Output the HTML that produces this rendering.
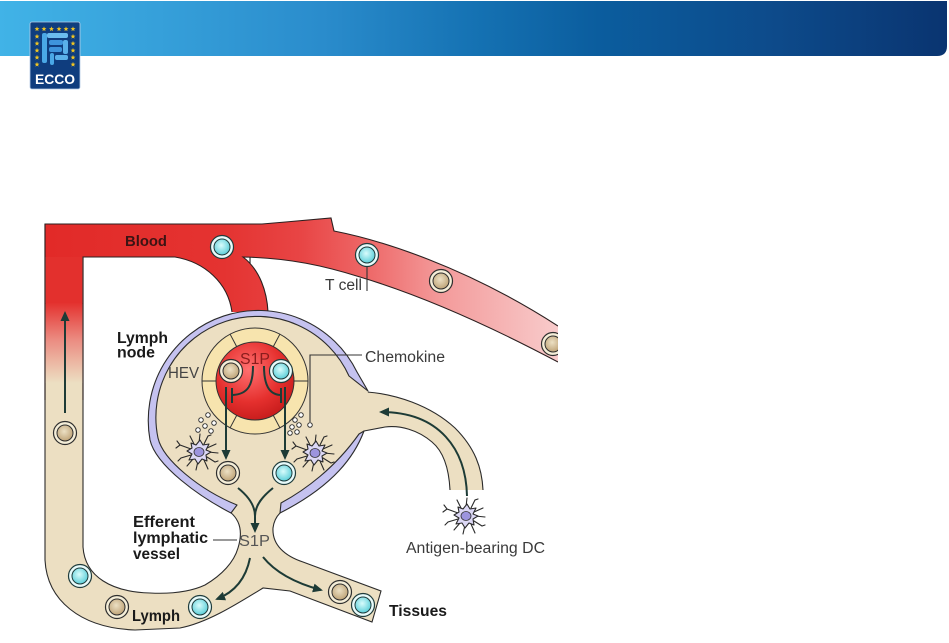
<!DOCTYPE html>
<html><head><meta charset="utf-8">
<style>
html,body{margin:0;padding:0;background:#fff;width:949px;height:643px;overflow:hidden}
svg{display:block}
text{font-family:"Liberation Sans",Arial,sans-serif}
</style></head>
<body>
<svg width="949" height="643" viewBox="0 0 949 643" xmlns="http://www.w3.org/2000/svg">
<defs>
  <linearGradient id="hdr" x1="0" y1="0" x2="949" y2="0" gradientUnits="userSpaceOnUse">
    <stop offset="0" stop-color="#41b3e7"/>
    <stop offset="0.34" stop-color="#2a8ccc"/>
    <stop offset="0.5" stop-color="#1572b3"/>
    <stop offset="0.63" stop-color="#0b5d9e"/>
    <stop offset="0.82" stop-color="#0d4a8a"/>
    <stop offset="1" stop-color="#0a3470"/>
  </linearGradient>
  <linearGradient id="bloodH" x1="44" y1="0" x2="558" y2="0" gradientUnits="userSpaceOnUse">
    <stop offset="0" stop-color="#e22a28"/>
    <stop offset="0.35" stop-color="#e43331"/>
    <stop offset="0.5" stop-color="#e84545"/>
    <stop offset="0.63" stop-color="#ee6868"/>
    <stop offset="0.77" stop-color="#f39a9a"/>
    <stop offset="1" stop-color="#f8cbcb"/>
  </linearGradient>
  <linearGradient id="bloodV" x1="0" y1="0" x2="0" y2="1">
    <stop offset="0" stop-color="#e4322f"/>
    <stop offset="0.45" stop-color="#eb8a80"/>
    <stop offset="1" stop-color="#ecdfc2"/>
  </linearGradient>
  <radialGradient id="redG" cx="0.42" cy="0.35" r="0.7">
    <stop offset="0" stop-color="#ff7070"/>
    <stop offset="0.6" stop-color="#e5302e"/>
    <stop offset="1" stop-color="#c41a1a"/>
  </radialGradient>
  <radialGradient id="tanG" cx="0.45" cy="0.4" r="0.6">
    <stop offset="0" stop-color="#ece0c4"/>
    <stop offset="1" stop-color="#bfa478"/>
  </radialGradient>
  <radialGradient id="cyG" cx="0.45" cy="0.4" r="0.6">
    <stop offset="0" stop-color="#d8fcfc"/>
    <stop offset="1" stop-color="#5ccfd9"/>
  </radialGradient>
  <marker id="ah" viewBox="0 0 10 10" refX="8" refY="5" markerWidth="10" markerHeight="10" markerUnits="userSpaceOnUse" orient="auto">
    <path d="M0,0.5 L10,5 L0,9.5 Z" fill="#1d3b36"/>
  </marker>
  <g id="tan">
    <circle r="11.5" fill="#f5eed8" stroke="#2e2e2e" stroke-width="1.2"/>
    <circle r="8" fill="url(#tanG)" stroke="#2e2e2e" stroke-width="1"/>
  </g>
  <g id="cy">
    <circle r="11.5" fill="#e8fbfb" stroke="#1f3b3b" stroke-width="1.2"/>
    <circle r="8" fill="url(#cyG)" stroke="#1f3b3b" stroke-width="1"/>
  </g>
  <g id="dc">
    <g stroke="#2a2a2a" stroke-width="1.1" stroke-linecap="round" fill="none">
      <path d="M-8,-3 L-19,-7 L-23,-4 M-19,-7 L-22,-11"/>
      <path d="M-8,3 L-18,6 L-21,9"/>
      <path d="M-5,-8 L-9,-16"/>
      <path d="M0,-9 L1,-18"/>
      <path d="M5,-8 L9,-16 L12,-17"/>
      <path d="M8,-4 L17,-8"/>
      <path d="M9,0 L19,1"/>
      <path d="M8,5 L16,10 L19,9"/>
      <path d="M5,8 L9,17"/>
      <path d="M-1,9 L-3,18"/>
      <path d="M-6,7 L-12,14"/>
    </g>
    <polygon points="12,0 7,3 8,9 3,7 -1,12 -4,7 -10,8 -7,2 -12,-1 -7,-4 -8,-9 -3,-7 1,-12 4,-7 10,-8 7,-2" fill="#dcd8f5" stroke="#2a2a2a" stroke-width="1.1" stroke-linejoin="round"/>
    <ellipse cx="0" cy="0" rx="5" ry="4.5" fill="#9c94de" stroke="#333" stroke-width="0.8"/>
  </g>
  <g id="dot"><circle r="2.3" fill="#fff" stroke="#333" stroke-width="0.9"/></g>
  <polygon id="star" points="0,-2.6 0.65,-0.89 2.47,-0.8 1.05,0.34 1.53,2.1 0,1.1 -1.53,2.1 -1.05,0.34 -2.47,-0.8 -0.65,-0.89" fill="#f2c521"/>
  <clipPath id="dclip"><rect x="0" y="200" width="558" height="443"/></clipPath>
</defs>

<!-- header -->
<path d="M0,1 H947 V46 Q947,56 937,56 H0 Z" fill="url(#hdr)"/>

<!-- logo -->
<rect x="30" y="22" width="50" height="67" rx="2" fill="#0f3d7e" stroke="#b8cde6" stroke-width="0.8"/>
<use href="#star" x="37" y="29"/><use href="#star" x="44" y="29"/><use href="#star" x="51.5" y="29"/>
<use href="#star" x="59" y="29"/><use href="#star" x="66" y="29"/><use href="#star" x="73" y="29"/>
<use href="#star" x="37" y="36.5"/><use href="#star" x="37" y="43.5"/><use href="#star" x="37" y="50.5"/>
<use href="#star" x="37" y="57.5"/><use href="#star" x="37" y="64.5"/>
<use href="#star" x="73" y="36.5"/><use href="#star" x="73" y="43.5"/><use href="#star" x="73" y="50.5"/>
<use href="#star" x="73" y="57.5"/><use href="#star" x="73" y="64.5"/>
<rect x="42" y="33" width="5" height="30" rx="2" fill="#4aa8e6"/>
<rect x="47" y="33" width="21" height="5" rx="2" fill="#6bbcee"/>
<rect x="49" y="40" width="14" height="5" rx="2" fill="#3e94dc"/>
<rect x="63" y="40" width="5" height="14" rx="2" fill="#5ab0ea"/>
<rect x="49" y="47" width="13" height="5" rx="2" fill="#3e94dc"/>
<rect x="55" y="55" width="13" height="5" rx="2" fill="#5ab0ea"/>
<rect x="50" y="53" width="4" height="12" rx="2" fill="#4aa8e6"/>
<text x="35" y="84" font-size="14" font-weight="bold" fill="#fff" textLength="40" lengthAdjust="spacingAndGlyphs">ECCO</text>

<!-- diagram -->
<g clip-path="url(#dclip)">
  <!-- lymph system -->
  <path d="M45,224 L45,560 C47,600 80,628 135,630 L180,628 C207,623 237,604 263,588 L290,591 L372,622 L381,591 L303,562 C285,556 272,545 273,528 C274,520 277,516 280,513 L250,480 L250,224 Z" fill="#ecdfc2" stroke="#2b2b2b" stroke-width="1.1"/>
  <!-- white hole -->
  <path d="M83,250 L83,547 C85,577 112,592 150,593 C170,594 190,592 205,585 C222,575 234,562 238,548 C243,532 240,520 230,512 L250,480 L250,250 Z" fill="#fff" stroke="#2b2b2b" stroke-width="1.1"/>
  <!-- afferent vessel -->
  <path d="M350,385 L367,392 C395,394 430,405 455,428 C475,448 482,468 483,490 L450,490 C449,470 444,452 432,442 C418,430 400,425 385,427 L364,431 L350,431 Z" fill="#ecdfc2"/>
  <path d="M367,392 C395,394 430,405 455,428 C475,448 482,468 483,490" fill="none" stroke="#2b2b2b" stroke-width="1.1"/>
  <path d="M450,490 C449,470 444,452 432,442 C418,430 400,425 385,427 L364,431" fill="none" stroke="#2b2b2b" stroke-width="1.1"/>

  <!-- red on vertical tube -->
  <rect x="45.6" y="224" width="36.8" height="80" fill="#e3302d"/>
  <rect x="45.6" y="303" width="36.8" height="80" fill="url(#bloodV)"/>
  <!-- blood -->
  <path d="M45,224 L262,224 C285,222 310,220 331,218 L334,231 C380,240 465,266 558,326 L558,362 C490,326 420,295 360,277 C325,266 290,258 243,257 C260,270 267,292 268,312 L232,312 C228,283 205,262 175,257 L83,257 L45,257 Z" fill="url(#bloodH)"/>
  <g fill="none" stroke="#2b2020" stroke-width="1.1">
    <path d="M45,224 L262,224 C285,222 310,220 331,218 L334,231 C380,240 465,266 558,326"/>
    <path d="M558,362 C490,326 420,295 360,277 C325,266 290,258 243,257 C260,270 267,292 268,312"/>
    <path d="M232,312 C228,283 205,262 175,257 L83,257 L83,400"/>
    <path d="M45,224 L45,400"/>
  </g>

  <!-- lymph node -->
  <path d="M231,513 C200,497 156,466 150,440 A110,110 0 0 1 357,372 L368,391 L364,431 C355,455 335,485 280,513 Z" fill="#ecdfc2"/>
  <path d="M231,513 C200,497 156,466 150,440 A110,110 0 0 1 357,372 L368,391 L349,376 A101,101 0 0 0 158,438 C163,460 200,490 237,505 Z" fill="#c5c2f0" stroke="#2b2b2b" stroke-width="1.1" stroke-linejoin="round"/>
  <path d="M364,431 C355,455 335,485 280,513 L281,503 C305,490 335,468 359,434 Z" fill="#c5c2f0" stroke="#2b2b2b" stroke-width="1.1" stroke-linejoin="round"/>

  <!-- HEV -->
  <circle cx="255" cy="381" r="53" fill="#f7e4ae" stroke="#333" stroke-width="1"/>
  <circle cx="255" cy="381" r="39" fill="url(#redG)" stroke="#333" stroke-width="1"/>
  <g stroke="#333" stroke-width="1">
    <line x1="236.7" y1="346.6" x2="230.1" y2="334.2"/>
    <line x1="273.3" y1="346.6" x2="279.9" y2="334.2"/>
    <line x1="236.7" y1="415.4" x2="230.1" y2="427.8"/>
    <line x1="273.3" y1="415.4" x2="279.9" y2="427.8"/>
    <line x1="216" y1="381" x2="202" y2="381"/>
    <line x1="294" y1="381" x2="308" y2="381"/>
  </g>

  <!-- chemokine dots -->
  <use href="#dot" x="201" y="420"/><use href="#dot" x="208" y="415"/><use href="#dot" x="214" y="423"/>
  <use href="#dot" x="205" y="426"/><use href="#dot" x="198" y="430"/><use href="#dot" x="211" y="431"/>
  <use href="#dot" x="295" y="420"/><use href="#dot" x="301" y="415"/><use href="#dot" x="292" y="427"/>
  <use href="#dot" x="299" y="425"/><use href="#dot" x="290" y="433"/><use href="#dot" x="297" y="432"/>

  <!-- DCs -->
  <use href="#dc" x="199" y="452"/>
  <use href="#dc" x="315" y="453"/>
  <use href="#dc" x="466" y="516"/>

  <!-- arrows and inhibitory lines -->
  <g fill="none" stroke="#1d3b36" stroke-width="2">
    <path d="M65,413 L65,313" marker-end="url(#ah)"/>
    <path d="M226,387 L226,458" marker-end="url(#ah)"/>
    <path d="M285,387 L285,458" marker-end="url(#ah)"/>
    <path d="M253,366 C253,385 248,394 233,395"/>
    <path d="M232,388 L232,403"/>
    <path d="M264,366 C264,385 269,394 280,395"/>
    <path d="M281,388 L281,403"/>
    <path d="M238,488 C248,496 255,505 255,516"/>
    <path d="M273,488 C263,496 255,505 255,516"/>
    <path d="M255,512 L255,531" marker-end="url(#ah)"/>
    <path d="M250,558 C246,578 235,592 217,599" marker-end="url(#ah)"/>
    <path d="M263,557 C275,572 295,583 321,590" marker-end="url(#ah)"/>
    <path d="M467,496 C466,450 440,412 381,412" marker-end="url(#ah)"/>
  </g>

  <!-- leaders -->
  <g fill="none" stroke="#333" stroke-width="1.1">
    <path d="M362,355 L310,355 L310,422"/>
    <path d="M367,267 L367,291"/>
    <path d="M213,540 L237,540"/>
  </g>
  <use href="#dot" x="310" y="425"/>

  <!-- cells -->
  <use href="#tan" x="65" y="433"/>
  <use href="#tan" x="231" y="371"/>
  <use href="#tan" x="228" y="473"/>
  <use href="#tan" x="117" y="607"/>
  <use href="#tan" x="340" y="592"/>
  <use href="#tan" x="441" y="281"/>
  <use href="#tan" x="553" y="344"/>
  <use href="#cy" x="222" y="247"/>
  <use href="#cy" x="367" y="255"/>
  <use href="#cy" x="281" y="371"/>
  <use href="#cy" x="284" y="473"/>
  <use href="#cy" x="80" y="576"/>
  <use href="#cy" x="200" y="607"/>
  <use href="#cy" x="363" y="605"/>

  <!-- labels -->
  <text x="125" y="246" font-size="15" font-weight="bold" fill="#3b1414" textLength="42" lengthAdjust="spacingAndGlyphs">Blood</text>
  <text x="325" y="290" font-size="15.5" fill="#3a3a3a" textLength="37" lengthAdjust="spacingAndGlyphs">T cell</text>
  <text x="117" y="343" font-size="15.5" font-weight="bold" fill="#1a1a1a" textLength="51" lengthAdjust="spacingAndGlyphs">Lymph</text>
  <text x="117" y="357.5" font-size="15.5" font-weight="bold" fill="#1a1a1a" textLength="38" lengthAdjust="spacingAndGlyphs">node</text>
  <text x="168" y="378" font-size="15.5" fill="#444" textLength="31" lengthAdjust="spacingAndGlyphs">HEV</text>
  <text x="240" y="364" font-size="15.5" fill="#8a1c1c" textLength="30" lengthAdjust="spacingAndGlyphs">S1P</text>
  <text x="365" y="362" font-size="15.5" fill="#3a3a3a" textLength="80" lengthAdjust="spacingAndGlyphs">Chemokine</text>
  <text x="133" y="527" font-size="16" font-weight="bold" fill="#1a1a1a" textLength="62" lengthAdjust="spacingAndGlyphs">Efferent</text>
  <text x="133" y="543" font-size="16" font-weight="bold" fill="#1a1a1a" textLength="75" lengthAdjust="spacingAndGlyphs">lymphatic</text>
  <text x="133" y="559" font-size="16" font-weight="bold" fill="#1a1a1a" textLength="47" lengthAdjust="spacingAndGlyphs">vessel</text>
  <text x="239" y="546" font-size="15.5" fill="#555" textLength="31" lengthAdjust="spacingAndGlyphs">S1P</text>
  <text x="406" y="553" font-size="15.5" fill="#3a3a3a" textLength="139" lengthAdjust="spacingAndGlyphs">Antigen-bearing DC</text>
  <text x="132" y="621" font-size="15.5" font-weight="bold" fill="#1a1a1a" textLength="48" lengthAdjust="spacingAndGlyphs">Lymph</text>
  <text x="389" y="616" font-size="15.5" font-weight="bold" fill="#1a1a1a" textLength="58" lengthAdjust="spacingAndGlyphs">Tissues</text>
</g>
</svg>
</body></html>
